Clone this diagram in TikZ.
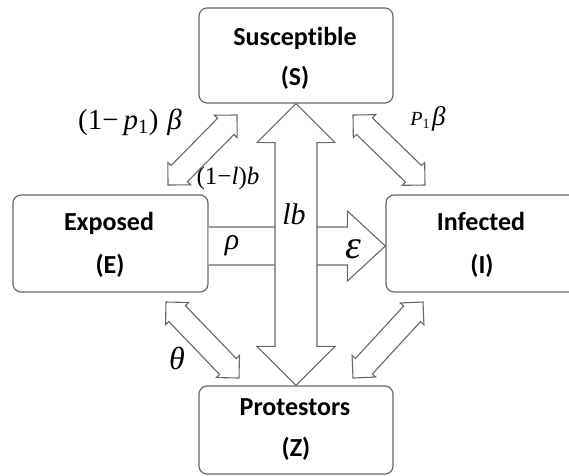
\documentclass[tikz,border=0pt]{standalone}
\usepackage{fontspec}
\setmainfont{Liberation Serif}
\newfontfamily\boxfont[Ligatures={NoCommon}]{Carlito}
\usetikzlibrary{calc}
\definecolor{linegray}{RGB}{105,105,105}
\tikzset{
  box/.style={draw=linegray, line width=1.2pt, rounded corners=8pt, fill=white, inner sep=0pt},
  boxtext/.style={font=\boxfont\bfseries\fontsize{26}{26}\selectfont, anchor=base, inner sep=0pt},
  fat/.style={draw=linegray, line width=1.1pt, fill=white, line join=miter},
  mlbl/.style={inner sep=0pt, font=\fontsize{27}{27}\selectfont}
}
\newcommand{\fatdbl}[5]{%
  \path ($(#1)!#3!(#2)$) coordinate (fa1) ($(#2)!#3!(#1)$) coordinate (fa2);
  \draw[fat] (#1) -- ($(fa1)!#4!90:(#2)$) -- ($(fa1)!#5!90:(#2)$)
    -- ($(fa2)!#5!-90:(#1)$) -- ($(fa2)!#4!-90:(#1)$) -- (#2)
    -- ($(fa2)!#4!90:(#1)$) -- ($(fa2)!#5!90:(#1)$)
    -- ($(fa1)!#5!-90:(#2)$) -- ($(fa1)!#4!-90:(#2)$) -- cycle;}
\begin{document}
\begin{tikzpicture}[x=1pt,y=-1pt]
\useasboundingbox (0,0) rectangle (569,475);
\clip (0,0) rectangle (569,475);
% boxes
\node[box, minimum width=194pt, minimum height=95pt] (S) at (296,55.5) {};
\node[box, minimum width=195pt, minimum height=97pt] (E) at (110.5,243.5) {};
\node[box, minimum width=194pt, minimum height=97pt] (I) at (483,243.5) {};
\node[box, minimum width=194pt, minimum height=88pt] (Z) at (296,430) {};
% rho / epsilon arrow  E -> I
\coordinate (rhoT) at (E.east |- 0,246);
\coordinate (rhoH) at (I.west |- 0,246);
\fill[white] ($(rhoT)+(0,-19)$) -- ($(rhoH)+(-38,-19)$) -- ($(rhoH)+(-38,-35)$) -- (rhoH)
  -- ($(rhoH)+(-38,35)$) -- ($(rhoH)+(-38,19)$) -- ($(rhoT)+(0,19)$) -- cycle;
\draw[fat, fill=none] ($(rhoT)+(0,-19)$) -- ($(rhoH)+(-38,-19)$) -- ($(rhoH)+(-38,-35)$) -- (rhoH)
  -- ($(rhoH)+(-38,35)$) -- ($(rhoH)+(-38,19)$) -- ($(rhoT)+(0,19)$);
% central double arrow S <-> Z
\fatdbl{S.south}{Z.north}{39pt}{39pt}{21pt}
% diagonal double arrows
\coordinate (se1) at (237,115); \coordinate (se2) at (168,185);
\coordinate (si1) at (353,115); \coordinate (si2) at (425,185);
\coordinate (ez1) at (166,302); \coordinate (ez2) at (239,378);
\coordinate (iz1) at (423,302); \coordinate (iz2) at (353,378);
\fatdbl{se1}{se2}{16pt}{16pt}{11.5pt}
\fatdbl{si1}{si2}{16pt}{16pt}{11.5pt}
\fatdbl{ez1}{ez2}{16pt}{16pt}{11.5pt}
\fatdbl{iz1}{iz2}{16pt}{16pt}{11.5pt}
% box texts
\node[boxtext] (St1) at (295,45) {Susceptible};
\node[boxtext] (St2) at (295,85) {(S)};
\node[boxtext] (Et1) at (109,230) {Exposed};
\node[boxtext] (Et2) at (110,273) {(E)};
\node[boxtext] (It1) at (481,230) {Infected};
\node[boxtext] (It2) at (482,273) {(I)};
\node[boxtext] (Zt1) at (295,415) {Protestors};
\node[boxtext] (Zt2) at (296,456) {(Z)};
% rate labels
\node[mlbl, font=\fontsize{29}{29}\selectfont] (l1) at (130,122) {(1−\hspace{5pt}\textit{p}\textsubscript{1})\hspace{9pt}\textit{β}};
\node[mlbl] (l2) at (428,119) {{\fontsize{20}{20}\selectfont\textit{P}\textsubscript{1}}\hspace{2pt}\textit{β}};
\node[mlbl, font=\fontsize{25}{25}\selectfont] (l3) at (228,178) {(1−\textit{l})\textit{b}};
\node[mlbl, font=\fontsize{30}{30}\selectfont] (l4) at (294,214) {\textit{lb}};
\node[mlbl, font=\fontsize{30}{30}\selectfont] (l5) at (232,246) {\textit{ρ}};
\node[mlbl, font=\fontsize{40}{40}\selectfont] (l6) at (353,249) {\textit{ε}};
\node[mlbl, font=\fontsize{32}{32}\selectfont] (l7) at (177,358) {\textit{θ}};
\end{tikzpicture}
\end{document}
